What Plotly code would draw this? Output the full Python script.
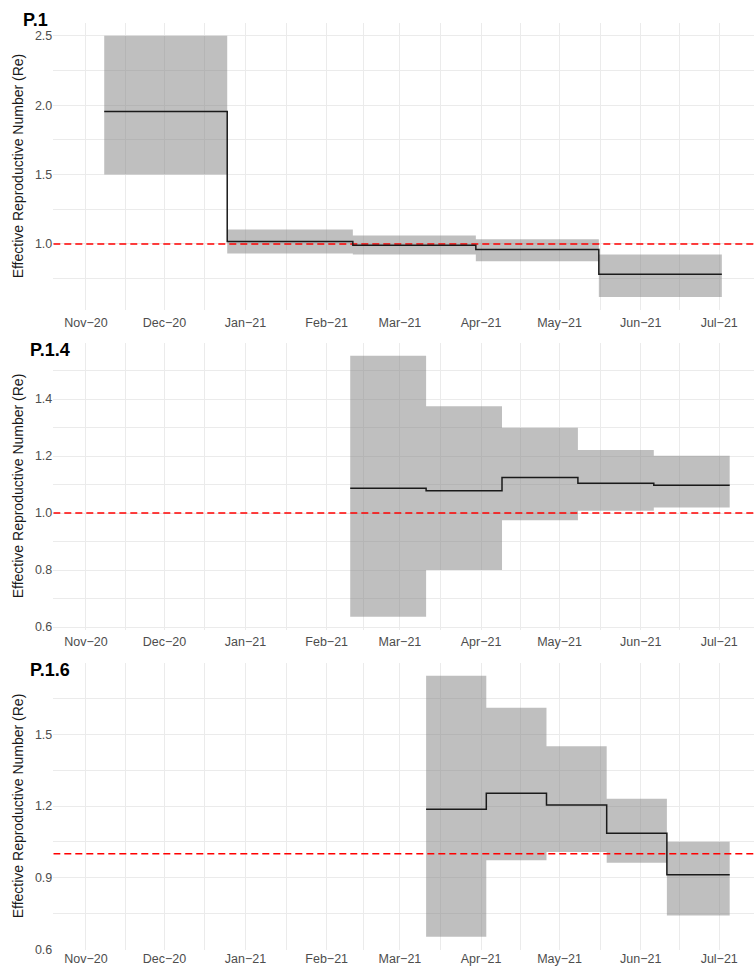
import plotly.graph_objects as go

# ---------------- data ----------------
month_ticks = ["2020-11-01", "2020-12-01", "2021-01-01", "2021-02-01", "2021-03-01",
               "2021-04-01", "2021-05-01", "2021-06-01", "2021-07-01"]
month_labels = ["Nov\u221220", "Dec\u221220", "Jan\u221221", "Feb\u221221", "Mar\u221221",
                "Apr\u221221", "May\u221221", "Jun\u221221", "Jul\u221221"]
minor_month_ticks = ["2020-11-16", "2020-12-16 12:00", "2021-01-16 12:00", "2021-02-15",
                     "2021-03-16 12:00", "2021-04-16", "2021-05-16 12:00", "2021-06-16"]

lineages = ["P.1", "P.1.4", "P.1.6"]

p1_breaks = ["2020-11-08", "2020-12-25", "2021-02-11", "2021-03-30", "2021-05-16", "2021-07-02"]
p1_mean = [1.955, 1.017, 0.990, 0.960, 0.782]
p1_lower = [1.500, 0.931, 0.924, 0.875, 0.618]
p1_upper = [2.500, 1.104, 1.060, 1.034, 0.924]

p14_breaks = ["2021-02-10", "2021-03-11", "2021-04-09", "2021-05-08", "2021-06-06", "2021-07-05"]
p14_mean = [1.087, 1.078, 1.125, 1.105, 1.098]
p14_lower = [0.636, 0.800, 0.975, 1.008, 1.020]
p14_upper = [1.552, 1.375, 1.299, 1.221, 1.201]

p16_breaks = ["2021-03-11", "2021-04-03", "2021-04-26", "2021-05-19", "2021-06-11", "2021-07-05"]
p16_mean = [1.187, 1.254, 1.204, 1.086, 0.912]
p16_lower = [0.652, 0.973, 1.007, 0.962, 0.741]
p16_upper = [1.746, 1.612, 1.451, 1.231, 1.050]

p1_yticks = [1.0, 1.5, 2.0, 2.5]
p1_yminor = [0.75, 1.25, 1.75, 2.25]
p14_yticks = [0.6, 0.8, 1.0, 1.2, 1.4]
p14_yminor = [0.7, 0.9, 1.1, 1.3, 1.5]
p16_yticks = [0.6, 0.9, 1.2, 1.5]
p16_yminor = [0.75, 1.05, 1.35, 1.65]

threshold = 1.0
y_title = "Effective Reproductive Number (Re)"

panels = [
    (lineages[0], p1_breaks, p1_mean, p1_lower, p1_upper, p1_yticks, p1_yminor),
    (lineages[1], p14_breaks, p14_mean, p14_lower, p14_upper, p14_yticks, p14_yminor),
    (lineages[2], p16_breaks, p16_mean, p16_lower, p16_upper, p16_yticks, p16_yminor),
]

# ---------------- layout geometry (pixels) ----------------
W, H = 754, 967
x_left_px = 53.3
panel_px = [(22.7, 310.0), (342.7, 629.9), (662.7, 949.9)]
title_px = [(20.7, 19.5), (28.3, 349.5), (28.3, 669.5)]
label_standoff = [3, 3, 0]
x_range = ["2020-10-19 13:00", "2021-07-14 07:00"]

FONT = "Liberation Sans, Arial, Helvetica, sans-serif"
GRID = "#EBEBEB"
TICKC = "#4D4D4D"

fig = go.Figure()
layout = dict(
    template="none",
    width=W, height=H,
    margin=dict(l=0, r=0, t=0, b=0, autoexpand=False),
    paper_bgcolor="white", plot_bgcolor="white",
    showlegend=False,
    font=dict(family=FONT, size=12, color=TICKC),
    annotations=[], shapes=[],
)

for i, (name, br, mean, lo, up, yt, ym) in enumerate(panels):
    xa = "x" if i == 0 else f"x{i+1}"
    ya = "y" if i == 0 else f"y{i+1}"
    xkey = "xaxis" if i == 0 else f"xaxis{i+1}"
    ykey = "yaxis" if i == 0 else f"yaxis{i+1}"

    # band: lower step then upper step filled between
    xs = list(br)
    lo_y = list(lo) + [lo[-1]]
    up_y = list(up) + [up[-1]]
    fig.add_trace(go.Scatter(x=xs, y=lo_y, mode="lines", line=dict(width=0, shape="hv"),
                             xaxis=xa, yaxis=ya, hoverinfo="skip"))
    fig.add_trace(go.Scatter(x=xs, y=up_y, mode="lines", line=dict(width=0, shape="hv"),
                             fill="tonexty", fillcolor="rgba(128,128,128,0.5)",
                             xaxis=xa, yaxis=ya, hoverinfo="skip"))
    # threshold
    fig.add_trace(go.Scatter(x=x_range, y=[threshold, threshold], mode="lines",
                             line=dict(color="#FF0000", width=1.5, dash="7px,4px"),
                             xaxis=xa, yaxis=ya, hoverinfo="skip"))
    # mean step
    fig.add_trace(go.Scatter(x=xs, y=list(mean) + [mean[-1]], mode="lines",
                             line=dict(color="#1A1A1A", width=1.5, shape="hv"),
                             xaxis=xa, yaxis=ya))

    top, bot = panel_px[i]
    dom_y = [1 - bot / H, 1 - top / H]
    span = max(up) - min(lo)
    yr = [min(lo) - 0.05 * span, max(up) + 0.05 * span]

    layout[xkey] = dict(
        domain=[x_left_px / W, 1.0], anchor=ya, type="date", range=x_range,
        tickmode="array", tickvals=month_ticks, ticktext=month_labels,
        showgrid=True, gridcolor=GRID, gridwidth=1.2,
        minor=dict(tickmode="array", tickvals=minor_month_ticks, showgrid=True,
                   gridcolor=GRID, gridwidth=0.7),
        zeroline=False, showline=False, ticks="", automargin=False,
        ticklabelstandoff=label_standoff[i],
        tickfont=dict(family=FONT, size=12.5, color=TICKC),
    )
    if i > 0:
        layout[xkey]["matches"] = "x"
    layout[ykey] = dict(
        domain=dom_y, anchor=xa, range=yr,
        tickmode="array", tickvals=yt, ticktext=[f"{v:.1f}" for v in yt],
        showgrid=True, gridcolor=GRID, gridwidth=1.2,
        minor=dict(tickmode="array", tickvals=ym, showgrid=True,
                   gridcolor=GRID, gridwidth=0.7),
        zeroline=False, showline=False, ticks="", automargin=False,
        tickfont=dict(family=FONT, size=12.5, color=TICKC),
    )

    layout["annotations"].append(dict(
        text=y_title, textangle=-90, xref="paper", yref="paper",
        x=18 / W, y=1 - (top + bot) / 2 / H, xanchor="center", yanchor="middle",
        showarrow=False, font=dict(family=FONT, size=14, color="#1A1A1A")))
    tx, ty = title_px[i]
    layout["annotations"].append(dict(
        text=f"<b>{name}</b>", xref="paper", yref="paper",
        x=tx / W, y=1 - ty / H, xanchor="left", yanchor="middle",
        showarrow=False, font=dict(family=FONT, size=18, color="black")))

fig.update_layout(**layout)
fig.write_html("out.html", config={"displayModeBar": False},
               post_script="document.body.style.margin='0px';document.body.style.padding='0px';")
